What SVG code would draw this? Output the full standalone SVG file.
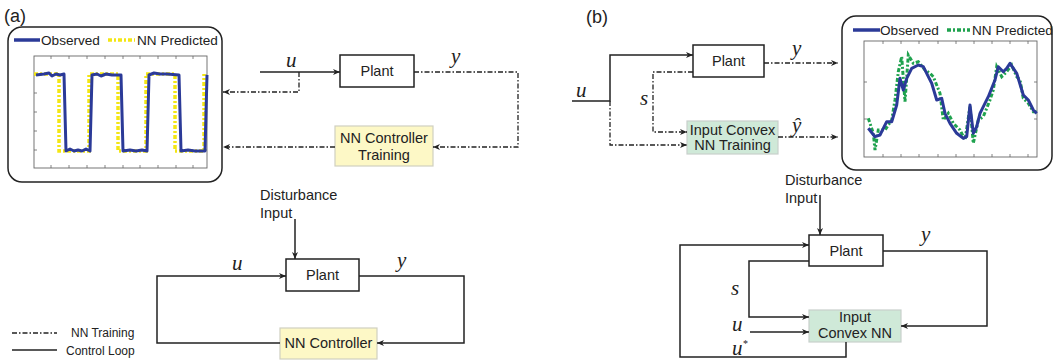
<svg xmlns="http://www.w3.org/2000/svg" width="1054" height="361" viewBox="0 0 1054 361">
<style>
.box{fill:#fff;stroke:#222;stroke-width:1.5}
.ybox{fill:#fdf8c6;stroke:#d0d0c0;stroke-width:1.2}
.gbox{fill:#cfe9d8;stroke:#c8d0cc;stroke-width:1.2}
.lbl{font-family:"Liberation Sans",Arial,sans-serif;font-size:14.5px;fill:#222}
.sm{font-family:"Liberation Sans",Arial,sans-serif;font-size:12px;fill:#222}
.leg{font-family:"Liberation Sans",Arial,sans-serif;font-size:13.6px;fill:#222}
.var{font-family:"Liberation Serif","Times New Roman",serif;font-style:italic;font-size:21px;fill:#222}
.solid{fill:none;stroke:#222;stroke-width:1.5}
.dd{fill:none;stroke:#222;stroke-width:1.3;stroke-dasharray:5 2 1.5 2}
.frame{fill:#fff;stroke:#222;stroke-width:1.5}
.axis{fill:none;stroke:#666;stroke-width:0.9}
.tick{stroke:#666;stroke-width:0.8}
.obs{fill:none;stroke:#2b3a98;stroke-width:3;stroke-linejoin:round}
.yel{fill:none;stroke:#f3e613;stroke-width:3.5;stroke-dasharray:4 2 2 2}
.grn{fill:none;stroke:#1fa24e;stroke-width:3;stroke-dasharray:4 2 2 2}
</style>
<defs>
<marker id="ah" markerUnits="userSpaceOnUse" markerWidth="8" markerHeight="8" refX="7" refY="4" orient="auto">
<path d="M0,1 L7,4 L0,7 L2,4 Z" fill="#222"/>
</marker>
</defs>

<text x="4" y="22" font-family="Liberation Sans, Arial, sans-serif" font-size="18" fill="#222">(a)</text>
<text x="586" y="23" font-family="Liberation Sans, Arial, sans-serif" font-size="18" fill="#222">(b)</text>

<g id="plot-a">
<rect class="frame" x="8" y="27" width="214" height="155" rx="14"/>
<line x1="14" y1="40" x2="40" y2="40" stroke="#2b3a98" stroke-width="3.5"/>
<text class="leg" x="41" y="45">Observed</text>
<line x1="108" y1="40" x2="135" y2="40" stroke="#f3e613" stroke-width="3.5" stroke-dasharray="4 2 2 2"/>
<text class="leg" x="137" y="45">NN Predicted</text>
<rect class="axis" x="34" y="56" width="173" height="112"/>
<g class="tick">
<path d="M51,168v-3M69,168v-3M87,168v-3M105,168v-3M123,168v-3M140,168v-3M158,168v-3M176,168v-3M193,168v-3M51,56v3M69,56v3M87,56v3M105,56v3M123,56v3M140,56v3M158,56v3M176,56v3M193,56v3M34,75h3M34,93h3M34,112h3M34,131h3M34,150h3M207,75h-3M207,93h-3M207,112h-3M207,131h-3M207,150h-3"/>
</g>
<path class="yel" d="M34,74 H59 V151 H89 V74 H118 V151 H146 V74 H175 V151 H204 V74"/>
<path class="obs" d="M36,75 L44,74 L49,73 L52,76 L56,74 L60,75 L64,74 L66,151 L70,149 L74,151 L78,150 L82,151 L86,149 L90,151 L92,75 L97,74 L101,76 L106,74 L112,75 L121,75 L123,151 L130,150 L136,151 L142,150 L147,151 L149,75 L154,73 L160,74 L167,74 L179,75 L181,151 L188,150 L195,151 L205,151 L207,75"/>
</g>

<g id="plant-a">
<rect class="box" x="340" y="55" width="74" height="32"/>
<text class="lbl" x="377" y="76" text-anchor="middle">Plant</text>
</g>
<g id="nnct-a">
<rect class="ybox" x="335" y="126" width="98" height="40"/>
<text class="lbl" x="384" y="143" text-anchor="middle">NN Controller</text>
<text class="lbl" x="384" y="160" text-anchor="middle">Training</text>
</g>
<g id="plant-a2">
<rect class="box" x="286" y="259" width="73" height="32"/>
<text class="lbl" x="322.5" y="280" text-anchor="middle">Plant</text>
</g>
<g id="nnc-a">
<rect class="ybox" x="280" y="328" width="97" height="31"/>
<text class="lbl" x="328.5" y="348" text-anchor="middle">NN Controller</text>
</g>
<g id="dist-a">
<text class="lbl" x="260" y="200">Disturbance</text>
<text class="lbl" x="260" y="218">Input</text>
</g>
<g id="legend">
<path class="dd" d="M12,333 H57"/>
<text class="sm" x="71" y="337">NN Training</text>
<path class="solid" d="M12,350 H57"/>
<text class="sm" x="66" y="355">Control Loop</text>
</g>

<g id="plot-b">
<rect class="frame" x="842" y="16" width="210" height="154" rx="14"/>
<line x1="853" y1="30" x2="880" y2="30" stroke="#2b3a98" stroke-width="3.5"/>
<text class="leg" x="880" y="35">Observed</text>
<line x1="947" y1="30" x2="970" y2="30" stroke="#1fa24e" stroke-width="3.5" stroke-dasharray="4 2 2 2"/>
<text class="leg" x="972" y="35">NN Predicted</text>
<rect class="axis" x="864" y="41" width="173" height="116"/>
<g class="tick">
<path d="M883,157v-3M901,157v-3M919,157v-3M938,157v-3M956,157v-3M974,157v-3M992,157v-3M1010,157v-3M1028,157v-3M883,41v3M901,41v3M919,41v3M938,41v3M956,41v3M974,41v3M992,41v3M1010,41v3M1028,41v3M864,82h3M864,119h3M1037,82h-3M1037,119h-3"/>
</g>
<path class="grn" d="M868.3,118.3 L873.3,133.3 L875,150 L878.3,130 L885,130 L891.7,120 L895,100 L898.3,71.7 L901.7,56.7 L905,101.7 L908.3,55 L913.3,63.3 L918.3,61.7 L925,70 L930,73.3 L933.3,76.7 L940,93.3 L943.3,120 L948.3,113.3 L953.3,123.3 L960,130 L965,140 L970,106.7 L973.3,143.3 L978.3,120 L983.3,116.7 L990,100 L993.3,90 L996.7,66.7 L1001.7,76.7 L1006.7,71.7 L1011.7,65 L1016.7,76.7 L1020,80 L1023.3,98.3 L1028.3,103.3 L1033.3,111.7 L1036.7,111.7"/>
<path class="obs" d="M868.3,128.3 L875,136.7 L880,135 L886.7,121.7 L891.7,121.7 L896.7,105 L900,78.3 L903.3,90 L906.7,78.3 L911.7,68.3 L918.3,65 L923.3,66.7 L928.3,76.7 L931.7,83.3 L936.7,100 L941.7,98.3 L945,113.3 L950,123.3 L956.7,133.3 L963.3,138.3 L966.7,136.7 L970,105 L973.3,133.3 L976.7,126.7 L980,113.3 L988.3,96.7 L995,80 L998.3,66.7 L1003.3,71.7 L1006.7,68.3 L1010,63.3 L1016.7,73.3 L1023.3,95 L1028.3,100 L1033.3,110 L1036.7,113.3"/>
</g>

<g id="plant-b">
<rect class="box" x="693" y="45" width="71" height="32"/>
<text class="lbl" x="728.5" y="66" text-anchor="middle">Plant</text>
</g>
<g id="icnnt-b">
<rect class="gbox" x="687" y="121" width="91" height="33"/>
<text class="lbl" x="732.5" y="135" text-anchor="middle" font-size="14">Input Convex</text>
<text class="lbl" x="732.5" y="150" text-anchor="middle" font-size="14">NN Training</text>
</g>
<g id="plant-b2">
<rect class="box" x="809" y="235" width="74" height="31"/>
<text class="lbl" x="846" y="256" text-anchor="middle">Plant</text>
</g>
<g id="icnn-b">
<rect class="gbox" x="809" y="310" width="92" height="32"/>
<text class="lbl" x="855" y="322" text-anchor="middle" font-size="14">Input</text>
<text class="lbl" x="855" y="338" text-anchor="middle" font-size="14">Convex NN</text>
</g>
<g id="dist-b">
<text class="lbl" x="785" y="185">Disturbance</text>
<text class="lbl" x="785" y="203">Input</text>
</g>

<g id="connectors">
<path class="solid" d="M260,72 H340" marker-end="url(#ah)"/>
<path class="dd" d="M299,72 V92 H223" marker-end="url(#ah)"/>
<path class="dd" d="M414,72 H518 V147 H433" marker-end="url(#ah)"/>
<path class="dd" d="M335,147 H223" marker-end="url(#ah)"/>
<path class="solid" d="M295,219 V259" marker-end="url(#ah)"/>
<path class="solid" d="M359,276 H464 V343 H377" marker-end="url(#ah)"/>
<path class="solid" d="M280,343 H157 V276 H286" marker-end="url(#ah)"/>

<path class="solid" d="M572,101 H610 V55 H693" marker-end="url(#ah)"/>
<path class="dd" d="M693,72 H653 V132 H687" marker-end="url(#ah)"/>
<path class="dd" d="M610,101 V145 H687" marker-end="url(#ah)"/>
<path class="dd" d="M764,63 H838" marker-end="url(#ah)"/>
<path class="dd" d="M778,137 H838" marker-end="url(#ah)"/>

<path class="solid" d="M820,195 V235" marker-end="url(#ah)"/>
<path class="solid" d="M883,251 H987 V326 H901" marker-end="url(#ah)"/>
<path class="solid" d="M809,261 H749 V317 H809" marker-end="url(#ah)"/>
<path class="solid" d="M750,332 H809" marker-end="url(#ah)"/>
<path class="solid" d="M846,342 V357 H680 V245 H809" marker-end="url(#ah)"/>
</g>

<g id="labels">
<text class="var" x="286" y="67">u</text>
<text class="var" x="451" y="63">y</text>
<text class="var" x="232" y="270">u</text>
<text class="var" x="397" y="267">y</text>
<text class="var" x="576" y="97">u</text>
<text class="var" x="640" y="105">s</text>
<text class="var" x="792" y="55">y</text>
<text class="var" x="792" y="132">ŷ</text>
<text class="var" x="921" y="241">y</text>
<text class="var" x="731" y="295">s</text>
<text class="var" x="732" y="331">u</text>
<text class="var" x="732" y="355">u</text>
<text x="743" y="347" font-family="Liberation Serif, serif" font-size="10" fill="#222">*</text>
</g>
</svg>
